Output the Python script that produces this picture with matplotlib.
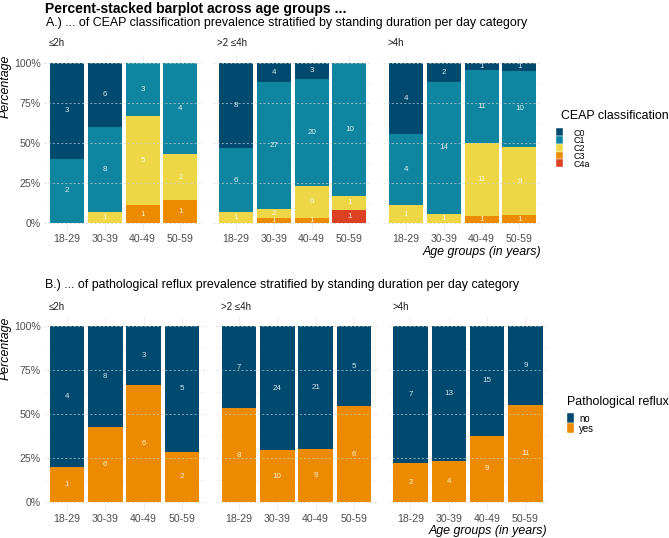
import matplotlib
matplotlib.use('Agg')
import matplotlib.pyplot as plt
import numpy as np
from matplotlib.patches import Rectangle

plt.rcParams['font.family'] = ['Liberation Sans', 'DejaVu Sans']

# ---------------- data ----------------
age_groups = ['18-29', '30-39', '40-49', '50-59']
durations = ['≤2h', '>2 ≤4h', '>4h']

ceap_classes = ['C0', 'C1', 'C2', 'C3', 'C4a']
ceap_colors = ['#00496F', '#0F85A0', '#EDD746', '#ED8B00', '#DD4124']
# counts: one row per standing-duration category, one value per age group
ceap_C0 = [[3, 6, 0, 0], [8, 4, 3, 0], [4, 2, 1, 1]]
ceap_C1 = [[2, 8, 3, 4], [6, 27, 20, 10], [4, 14, 11, 10]]
ceap_C2 = [[0, 1, 5, 2], [1, 2, 6, 1], [1, 1, 11, 9]]
ceap_C3 = [[0, 0, 1, 1], [0, 1, 1, 0], [0, 0, 1, 1]]
ceap_C4a = [[0, 0, 0, 0], [0, 0, 0, 1], [0, 0, 0, 0]]

reflux_classes = ['no', 'yes']
reflux_colors = ['#00496F', '#ED8B00']
reflux_no = [[4, 8, 3, 5], [7, 24, 21, 5], [7, 13, 15, 9]]
reflux_yes = [[1, 6, 6, 2], [8, 10, 9, 6], [2, 4, 9, 11]]

# ---------------- layout ----------------
W, H = 669, 538
fig = plt.figure(figsize=(W / 100, H / 100), dpi=100)
TICK_C = '#4D4D4D'


def px_axes(x0, width, ytop, ybot):
    return fig.add_axes([x0 / W, 1 - ybot / H, width / W, (ybot - ytop) / H])


def draw_panel(ax, series_top_down, colors_top_down, show_y):
    n = len(age_groups)
    x = np.arange(n)
    data = np.array(series_top_down, dtype=float)  # classes x ages
    totals = data.sum(axis=0)
    frac = data / totals
    # background grid
    for yv in [0.125, 0.375, 0.625, 0.875]:
        ax.axhline(yv, color='#F0F0F0', lw=0.5, zorder=0)
    for xv in x:
        ax.axvline(xv, color='#EBEBEB', lw=0.6, zorder=0)
    # stack bottom-up
    bottom = np.zeros(n)
    for k in range(len(data) - 1, -1, -1):
        ax.bar(x, frac[k], bottom=bottom, width=0.9, color=colors_top_down[k],
               zorder=2, linewidth=0)
        for i in range(n):
            if data[k, i] > 0:
                ax.text(x[i], bottom[i] + frac[k, i] / 2, f'{int(data[k, i])}',
                        ha='center', va='center', fontsize=5.8,
                        color='white', alpha=0.85, zorder=5)
        bottom = bottom + frac[k]
    for yv in [0, 0.25, 0.5, 0.75, 1.0]:
        ax.axhline(yv, color='#D0D0D0', lw=0.6, ls=(0, (2.5, 2.5)),
                   alpha=0.8, zorder=3)
    ax.set_xlim(-0.6, n - 1 + 0.6)
    ax.set_ylim(-0.05, 1.05)
    ax.set_xticks(x)
    ax.set_xticklabels(age_groups)
    ax.set_yticks([0, 0.25, 0.5, 0.75, 1.0])
    ax.set_yticklabels(['0%', '25%', '50%', '75%', '100%'])
    ax.tick_params(length=0, labelsize=7.6, colors=TICK_C, pad=2.4)
    if not show_y:
        ax.set_yticklabels([])
    for s in ax.spines.values():
        s.set_visible(False)
    ax.set_facecolor('none')


# Panel A
sA = 37.8
A_x0 = [67 - 0.6 * sA, 236 - 0.6 * sA, 406 - 0.6 * sA]
for j in range(3):
    ax = px_axes(A_x0[j], 4.2 * sA, 55, 231)
    series = [ceap_C0[j], ceap_C1[j], ceap_C2[j], ceap_C3[j], ceap_C4a[j]]
    draw_panel(ax, series, ceap_colors, j == 0)
    fig.text((A_x0[j] + 4) / W, 1 - 43 / H, durations[j], fontsize=7,
             ha='left', va='center', color='#1A1A1A')

# Panel B
sB = 38.3
B_x0 = [67 - 0.6 * sB, 239 - 0.6 * sB, 410.5 - 0.6 * sB]
for j in range(3):
    ax = px_axes(B_x0[j], 4.2 * sB, 317.2, 510.8)
    series = [reflux_no[j], reflux_yes[j]]
    draw_panel(ax, series, reflux_colors, j == 0)
    fig.text((B_x0[j] + 5) / W, 1 - 307 / H, durations[j], fontsize=7,
             ha='left', va='center', color='#1A1A1A')

# titles
fig.text(45 / W, 1 - 9 / H, 'Percent-stacked barplot across age groups ...',
         fontsize=10, fontweight='bold', ha='left', va='center')
fig.text(46 / W, 1 - 23 / H,
         'A.) ... of CEAP classification prevalence stratified by standing duration per day category',
         fontsize=8.9, ha='left', va='center')
fig.text(45 / W, 1 - 285 / H,
         'B.) ... of pathological reflux prevalence stratified by standing duration per day category',
         fontsize=8.9, ha='left', va='center')

# axis titles
for ytop in [55, 317]:
    fig.text(6 / W, 1 - ytop / H, 'Percentage', rotation=90, fontsize=8.9,
             style='italic', ha='center', va='top')
fig.text(541.7 / W, 1 - 252 / H, 'Age groups (in years)', fontsize=8.9,
         style='italic', ha='right', va='center')
fig.text(547.7 / W, 1 - 531 / H, 'Age groups (in years)', fontsize=8.9,
         style='italic', ha='right', va='center')


# legends
def draw_legend(title, classes, colors, title_x, title_y, key_x, key_y0, key_h,
                key_w, label_x, label_fs):
    fig.text(title_x / W, 1 - title_y / H, title, fontsize=8.9, ha='left', va='center')
    for i, (c, col) in enumerate(zip(classes, colors)):
        yc = key_y0 + i * key_h
        fig.patches.append(Rectangle((key_x / W, 1 - (yc + key_h / 2) / H),
                                     key_w / W, key_h / H, transform=fig.transFigure,
                                     facecolor=col, edgecolor='white', lw=0.3))
        fig.text(label_x / W, 1 - yc / H, c, fontsize=label_fs, ha='left',
                 va='center_baseline')


draw_legend('CEAP classification', ceap_classes, ceap_colors,
            560.7, 116, 556, 132, 7.8, 6.5, 573, 6.4)
draw_legend('Pathological reflux', reflux_classes, reflux_colors,
            567, 402, 567, 418, 9.8, 6.5, 579, 6.9)

fig.savefig('out.png', dpi=100, facecolor='white')
